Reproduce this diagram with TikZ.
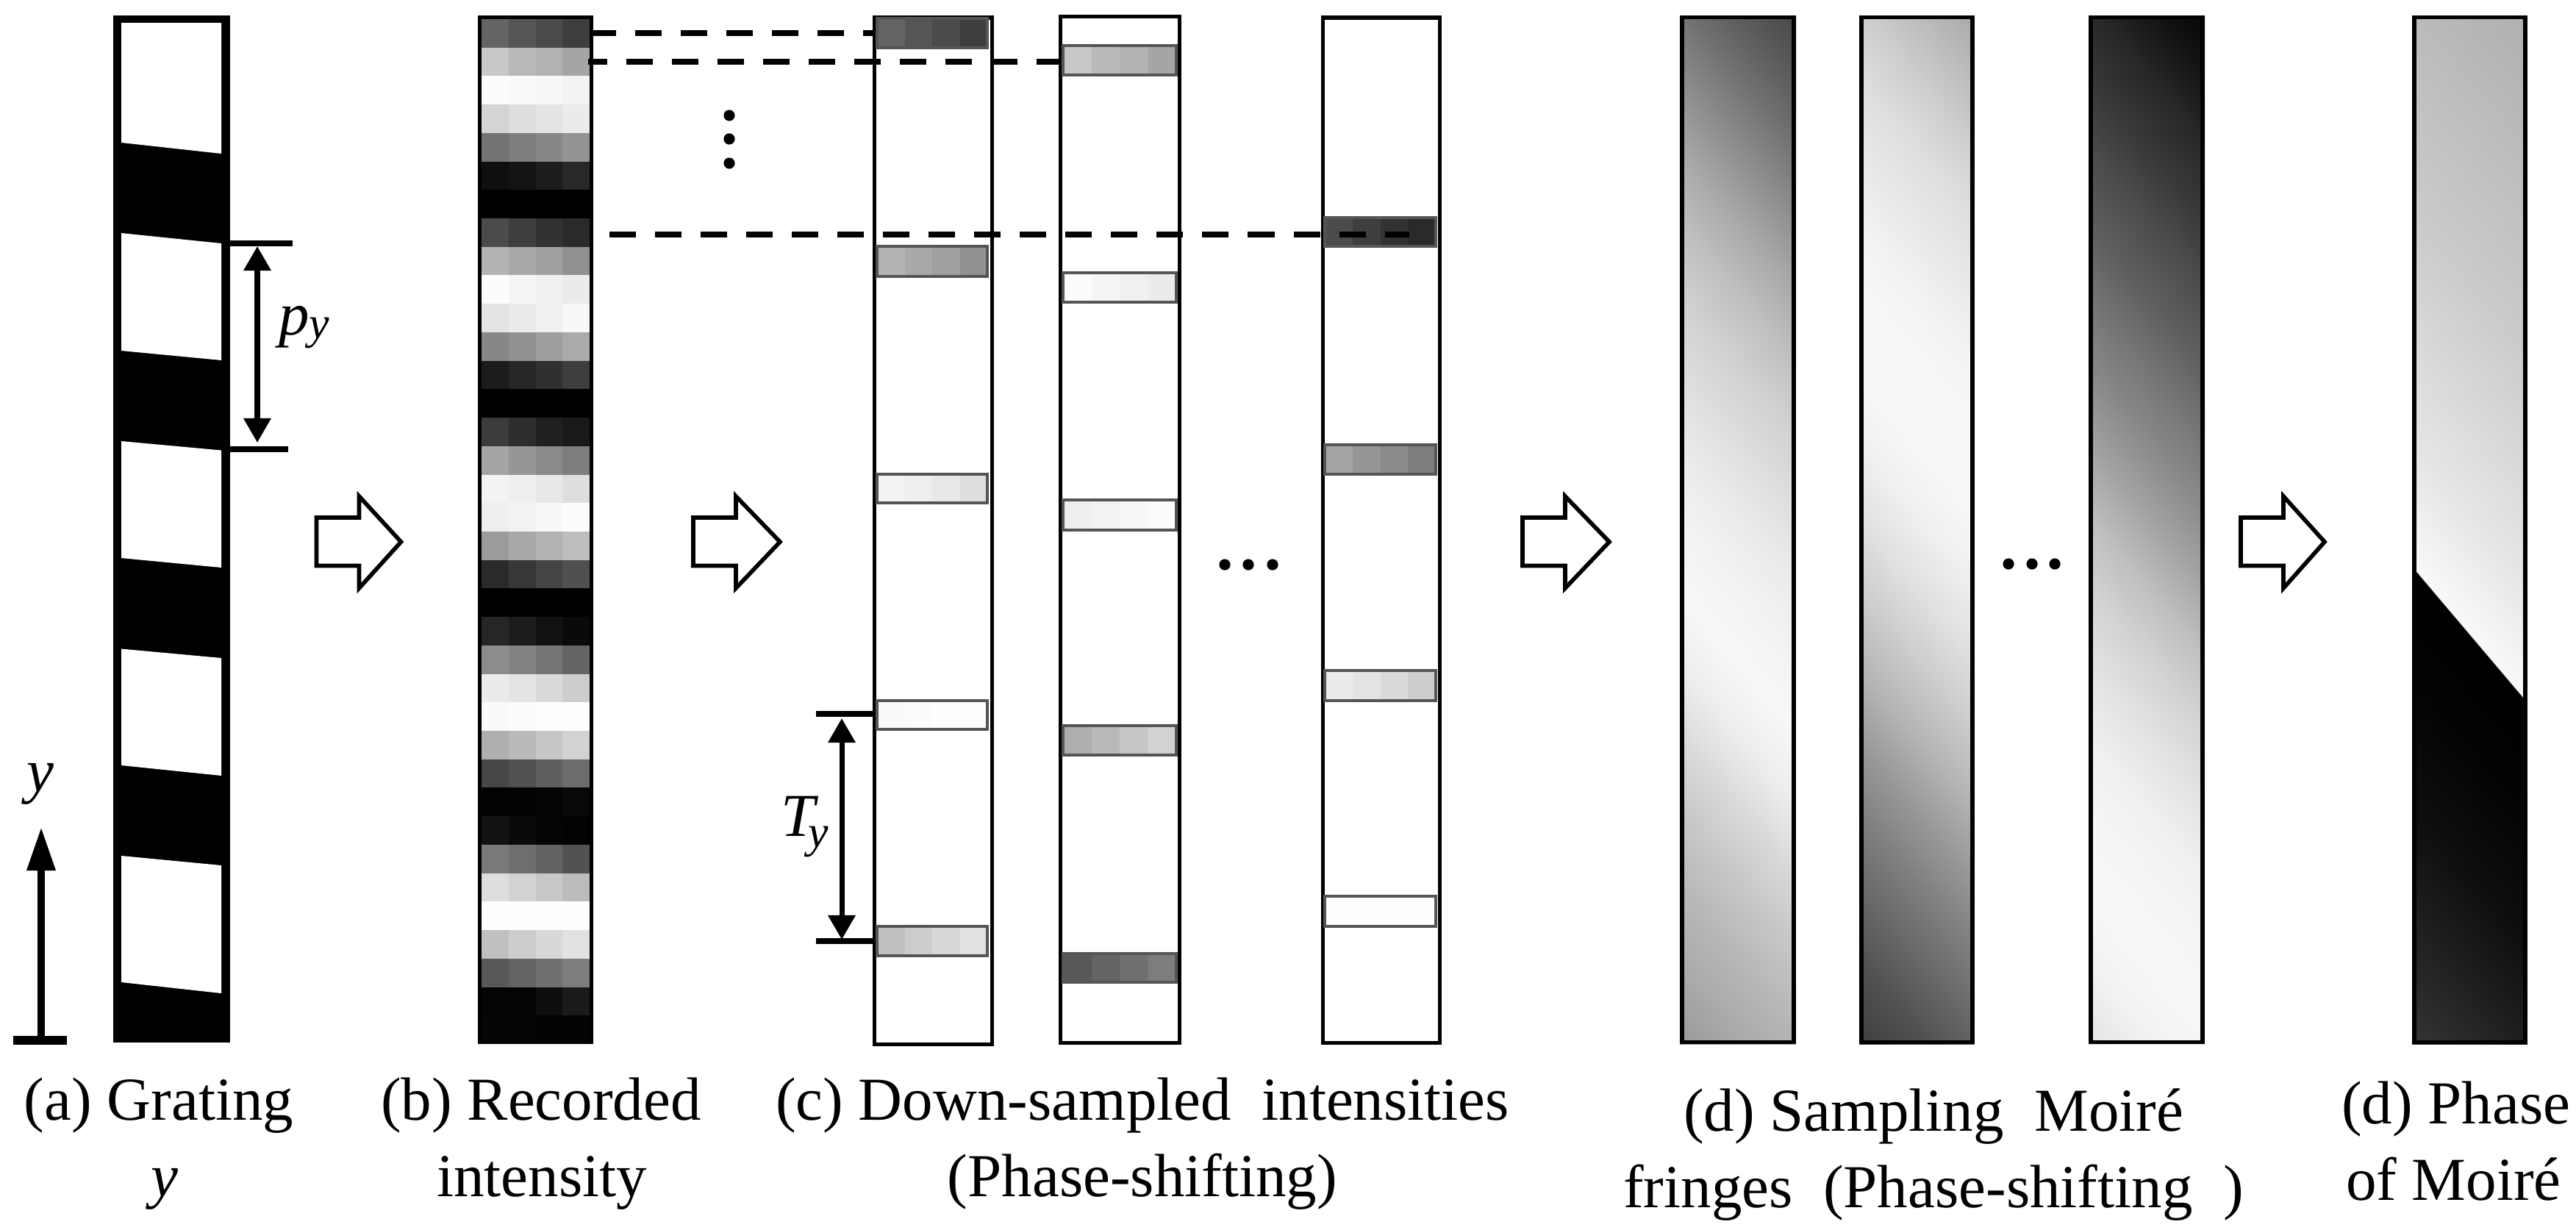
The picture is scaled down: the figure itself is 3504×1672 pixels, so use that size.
\documentclass[tikz,border=0pt]{standalone}
\usepackage{fontspec}
\setmainfont{Liberation Serif}
\usetikzlibrary{arrows.meta}
\newcommand\gstop[2]{rgb(#1bp)=(#2,#2,#2)}
\edef\tmpshade{\noexpand\pgfdeclareverticalshading{fringeA}{100bp}{\gstop{0}{0.5}; \gstop{25}{0.5}; \gstop{30}{0.61}; \gstop{32.5}{0.67}; \gstop{35}{0.72}; \gstop{37.5}{0.78}; \gstop{40}{0.85}; \gstop{42.5}{0.93}; \gstop{45}{0.97}; \gstop{47.5}{0.95}; \gstop{50}{0.92}; \gstop{52.5}{0.87}; \gstop{55}{0.82}; \gstop{57.5}{0.75}; \gstop{60}{0.66}; \gstop{62.5}{0.55}; \gstop{65}{0.44}; \gstop{67.5}{0.34}; \gstop{70}{0.26}; \gstop{75}{0.10}; \gstop{100}{0.10}}}\tmpshade
\edef\tmpshade{\noexpand\pgfdeclareverticalshading{fringeB}{100bp}{\gstop{0}{0.15}; \gstop{25}{0.15}; \gstop{30}{0.25}; \gstop{32.5}{0.32}; \gstop{35}{0.41}; \gstop{37.5}{0.50}; \gstop{40}{0.60}; \gstop{42.5}{0.71}; \gstop{45}{0.80}; \gstop{47.5}{0.88}; \gstop{50}{0.94}; \gstop{52.5}{0.97}; \gstop{55}{0.97}; \gstop{57.5}{0.95}; \gstop{60}{0.91}; \gstop{62.5}{0.87}; \gstop{65}{0.80}; \gstop{67.5}{0.72}; \gstop{70}{0.64}; \gstop{75}{0.50}; \gstop{100}{0.50}}}\tmpshade
\edef\tmpshade{\noexpand\pgfdeclareverticalshading{fringeC}{100bp}{\gstop{0}{0.80}; \gstop{25}{0.80}; \gstop{30}{0.90}; \gstop{32.5}{0.95}; \gstop{35}{0.97}; \gstop{37.5}{0.96}; \gstop{40}{0.94}; \gstop{42.5}{0.89}; \gstop{45}{0.83}; \gstop{47.5}{0.75}; \gstop{50}{0.64}; \gstop{52.5}{0.54}; \gstop{55}{0.46}; \gstop{57.5}{0.37}; \gstop{60}{0.30}; \gstop{62.5}{0.22}; \gstop{65}{0.155}; \gstop{67.5}{0.07}; \gstop{70}{0.01}; \gstop{75}{0.0}; \gstop{100}{0.0}}}\tmpshade
\edef\tmpshade{\noexpand\pgfdeclareverticalshading{fringeD}{100bp}{\gstop{0}{0.30}; \gstop{25}{0.30}; \gstop{29.7}{0.21}; \gstop{32}{0.16}; \gstop{37.5}{0.06}; \gstop{42.5}{0.01}; \gstop{45.9}{0.0}; \gstop{45.93}{0.975}; \gstop{50}{0.90}; \gstop{57.5}{0.80}; \gstop{67}{0.71}; \gstop{69.3}{0.69}; \gstop{75}{0.66}; \gstop{100}{0.66}}}\tmpshade
\tikzset{
  boxnode/.style={inner sep=0pt,outer sep=0pt},
  solidblack/.style={boxnode,fill=black},
  stripframe/.style={boxnode,draw=black,line width=1.55pt},
  panelframe/.style={boxnode,draw=black,line width=1.6pt},
  barframe/.style={draw={rgb,255:red,85;green,85;blue,85},line width=0.9pt},
  dashline/.style={draw=black,line width=2.3pt,dash pattern=on 10.24pt off 7.4pt},
  tick/.style={draw=black,line width=2.3pt},
  dimarrow/.style={draw=black,line width=2pt,{Triangle[width=10.2pt,length=9.4pt]}-{Triangle[width=10.2pt,length=9.4pt]}},
  axisarrow/.style={draw=black,line width=2.9pt,-{Triangle[width=10.5pt,length=16.8pt]}},
  hollow/.style={draw=black,fill=white,line width=1.6pt,miter limit=10},
  dotmark/.style={fill=black},
  capt/.style={inner sep=0pt,outer sep=0pt,anchor=base,font=\fontsize{23.6}{28}\selectfont},
  captl/.style={capt,anchor=base west},
  symb/.style={inner sep=0pt,outer sep=0pt,anchor=base west,font=\fontsize{23.6}{28}\selectfont}
}
% a named box given by its px extents
\newcommand\pxbox[6]{%
  \pgfmathsetmacro\bxc{(#3+#4)/2}\pgfmathsetmacro\byc{(#5+#6)/2}%
  \pgfmathsetmacro\bw{(#4-#3)*0.01}\pgfmathsetmacro\bh{(#6-#5)*0.01}%
  \node[#1,minimum width=\bw cm,minimum height=\bh cm] (#2) at (\bxc,\byc) {};}
% four gray cells
\newcommand\fourcells[8]{%
  \pgfmathsetmacro\cw{(#2-#1)/4}%
  \pgfmathsetmacro\ca{#1+\cw}\pgfmathsetmacro\cb{#1+2*\cw}\pgfmathsetmacro\cc{#1+3*\cw}%
  \fill[fill={rgb,255:red,#5;green,#5;blue,#5}] (#1,#3) rectangle (\ca+0.6,#4);
  \fill[fill={rgb,255:red,#6;green,#6;blue,#6}] (\ca,#3) rectangle (\cb+0.6,#4);
  \fill[fill={rgb,255:red,#7;green,#7;blue,#7}] (\cb,#3) rectangle (\cc+0.6,#4);
  \fill[fill={rgb,255:red,#8;green,#8;blue,#8}] (\cc,#3) rectangle (#2,#4);}
\newcommand\samplebar[8]{%
  \fourcells{#1}{#2}{#3}{#4}{#5}{#6}{#7}{#8}%
  \draw[barframe] (#1,#3) rectangle (#2,#4);}
\newcommand\fringepanel[4]{%
  \pgfmathsetmacro\pxc{(#3+#4)/2}%
  \begin{scope}
    \clip (#3,21) rectangle (#4,1420);
    \begin{scope}[transform canvas={shift={(\pxc,0)},yslant=-1.18,shift={(-\pxc,0)}}]
      \shade[shading=#2] (#3,-300) rectangle (#4,1700);
    \end{scope}
  \end{scope}
  \pgfmathsetmacro\pxa{#3+2.8}\pgfmathsetmacro\pxb{#4-2.8}%
  \pxbox{panelframe}{#1}{\pxa}{\pxb}{23.5}{1417.5}}
\newcommand\hollowarrow[2]{%
  \draw[hollow] (#1,704) -- (#1+58,704) -- (#1+58,675) -- (#1+#2,737) -- (#1+58,800) -- (#1+58,769.5) -- (#1,769.5) -- cycle;}
\begin{document}
\begin{tikzpicture}[x=0.01cm,y=-0.01cm]
\path[fill=white,use as bounding box] (0,0) rectangle (3504,1672);

% (a) grating
\pxbox{solidblack}{grating}{154}{313}{21}{1418}
\fill[white] (165,31) -- (301,31) -- (301,209) -- (165,194) -- cycle;
\fill[white] (165,317) -- (301,331) -- (301,490) -- (165,477) -- cycle;
\fill[white] (165,600) -- (301,612.5) -- (301,772) -- (165,759) -- cycle;
\fill[white] (165,882.5) -- (301,895) -- (301,1055) -- (165,1041) -- cycle;
\fill[white] (165,1164) -- (301,1177) -- (301,1351) -- (165,1336) -- cycle;

% p_y dimension
\coordinate (pyTickA) at (313,331); \coordinate (pyTickB) at (398,331);
\coordinate (pyTickC) at (313,611); \coordinate (pyTickD) at (392,611);
\coordinate (pyTop) at (350,335); \coordinate (pyBot) at (350,602);
\draw[tick] (pyTickA) -- (pyTickB);
\draw[tick] (pyTickC) -- (pyTickD);
\draw[dimarrow] (pyTop) -- (pyBot);
\node[symb] (pylabel) at (379,455) {\textit{p}\raisebox{-1.5pt}{\fontsize{17.6}{20}\selectfont\textit{y}}};

% y axis
\coordinate (axisBase) at (56,1415); \coordinate (axisTip) at (56,1125);
\coordinate (axisBarA) at (18,1415); \coordinate (axisBarB) at (91,1415);
\draw[draw=black,line width=3.4pt] (axisBarA) -- (axisBarB);
\draw[axisarrow] (axisBase) -- (axisTip);
\node[symb] (ylabel) at (37,1076) {\textit{y}};

% (b) recorded intensity
\pxbox{solidblack}{recorded}{650}{807}{21}{1420}
\foreach \i/\a/\b/\c/\d in {
 0/100/85/75/62, 1/200/185/178/165, 2/252/250/248/243, 3/212/222/228/235,
 4/115/125/135/148, 5/15/20/28/40, 6/0/0/0/0, 7/75/62/50/42,
 8/180/168/160/145, 9/252/245/240/235, 10/228/235/240/248, 11/135/145/158/170,
 12/28/38/48/62, 13/0/0/0/0, 14/60/45/32/25, 15/165/150/138/125,
 16/243/238/232/222, 17/238/243/248/252, 18/155/168/178/190, 19/42/55/68/80,
 20/0/0/0/0, 21/38/28/18/10, 22/140/130/118/100, 23/235/228/218/205,
 24/250/252/254/254, 25/175/185/198/210, 26/70/82/95/108, 27/2/2/4/8,
 28/18/10/4/2, 29/122/110/98/82, 30/222/210/200/188, 31/254/254/254/254,
 32/192/205/216/226, 33/88/100/112/125, 34/4/4/14/26, 35/5/5/3/3}{
  \pgfmathsetmacro\ya{26+38.72*\i}\pgfmathsetmacro\yb{\ya+39}
  \fourcells{655}{802}{\ya}{\yb}{\a}{\b}{\c}{\d}
}

% (c) down-sampled strips
\pxbox{stripframe}{stripA}{1189.5}{1349.5}{24}{1420.5}
\pxbox{stripframe}{stripB}{1442.5}{1604.5}{22.5}{1418.5}
\pxbox{stripframe}{stripC}{1799.5}{1958.5}{24}{1418.5}
\samplebar{1193}{1343}{25}{65}{100}{85}{75}{62}
\samplebar{1193}{1343}{335}{376}{180}{168}{160}{145}
\samplebar{1193}{1343}{645}{684}{243}{238}{232}{222}
\samplebar{1193}{1343}{953}{992}{250}{252}{254}{254}
\samplebar{1193}{1343}{1260}{1300}{192}{205}{216}{226}
\samplebar{1446}{1600}{62}{102}{200}{185}{178}{165}
\samplebar{1446}{1600}{371}{411}{252}{245}{240}{235}
\samplebar{1446}{1600}{680}{721}{238}{243}{248}{252}
\samplebar{1446}{1600}{987}{1027}{175}{185}{198}{210}
\samplebar{1446}{1600}{1297}{1336}{88}{100}{112}{125}
\samplebar{1802}{1953}{296}{335}{75}{62}{50}{42}
\samplebar{1802}{1953}{605}{645}{165}{150}{138}{125}
\samplebar{1802}{1953}{912}{953}{235}{228}{218}{205}
\samplebar{1802}{1953}{1219}{1260}{254}{254}{254}{254}

% T_y dimension
\coordinate (tyTickA) at (1110,971); \coordinate (tyTickB) at (1190,971);
\coordinate (tyTickC) at (1110,1280); \coordinate (tyTickD) at (1190,1280);
\coordinate (tyTop) at (1145,977); \coordinate (tyBot) at (1145,1278);
\draw[tick] (tyTickA) -- (tyTickB);
\draw[tick] (tyTickC) -- (tyTickD);
\draw[dimarrow] (tyTop) -- (tyBot);
\node[symb] (tylabel) at (1062,1137) {\textit{T}\hspace{-4pt}\raisebox{-4.3pt}{\fontsize{17.6}{20}\selectfont\textit{y}}};

% dashed projections
\coordinate (dashAs) at (805,45); \coordinate (dashAe) at (1187,45);
\coordinate (dashBs) at (800,84); \coordinate (dashBe) at (1440,84);
\coordinate (dashCs) at (829,319); \coordinate (dashCe) at (1917,319);
\draw[dashline,dash phase=0.85pt] (dashAs) -- (dashAe);
\draw[dashline,dash phase=2.85pt] (dashBs) -- (dashBe);
\draw[dashline] (dashCs) -- (dashCe);

% dots
\foreach \n/\px/\py in {va/992/157, vb/992/189, vc/992/222, ca/1666/768, cb/1698/768, cc/1731/768, da/2732/767, db/2764/767, dc/2795/767}{
  \fill[dotmark] (\px,\py) circle[radius=7.6];
}

% fringes
\fringepanel{fringeOne}{fringeA}{2285}{2443}
\fringepanel{fringeTwo}{fringeB}{2529}{2686}
\fringepanel{fringeThree}{fringeC}{2841}{2999}
\fringepanel{fringeFour}{fringeD}{3281}{3438}

% block arrows
\hollowarrow{430.5}{115}
\hollowarrow{943}{118}
\hollowarrow{2071}{118}
\hollowarrow{3048}{114}

% captions
\node[capt] (capA) at (216,1523) {(a) Grating};
\node[capt] (capAy) at (224,1627) {\textit{y}};
\node[capt] (capB) at (736,1523) {(b) Recorded};
\node[capt] (capBb) at (737,1627) {intensity};
\node[capt] (capC) at (1554,1523) {(c) Down-sampled\ \ intensities};
\node[capt] (capCb) at (1554,1627) {(Phase-shifting)};
\node[capt] (capD) at (2630,1538) {(d) Sampling\ \ Moiré};
\node[capt] (capDb) at (2630,1642) {fringes\ \ (Phase-shifting\ \ )};
\node[captl] (capE) at (3185,1528) {(d) Phase};
\node[captl] (capEb) at (3191,1632) {of Moiré};
\end{tikzpicture}
\end{document}
